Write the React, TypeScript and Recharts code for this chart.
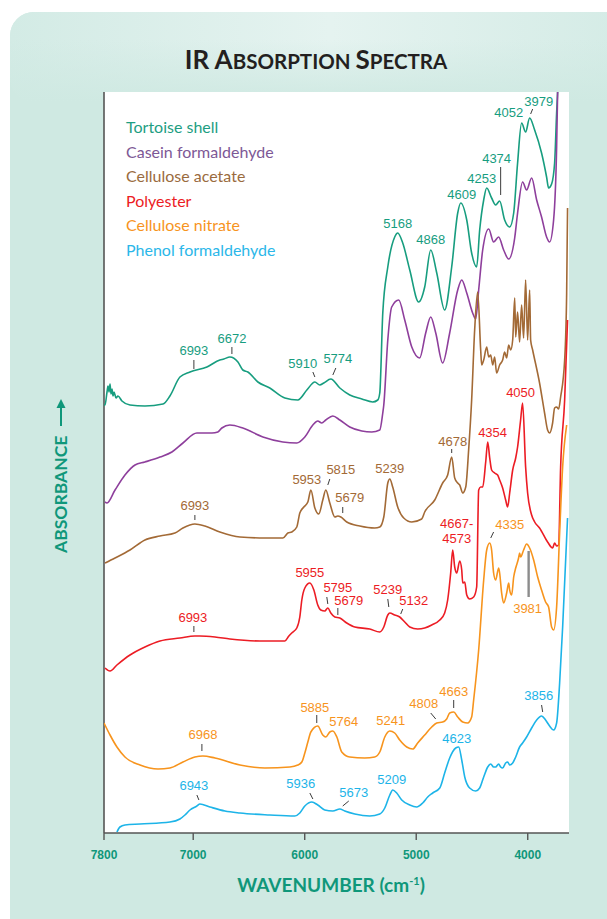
import React from 'react';
import { ComposedChart, Line, XAxis, YAxis, Scatter, ReferenceLine, CartesianGrid, Legend } from 'recharts';

type Pt = [number, number];

// ---- Spectra: [wavenumber (cm-1), absorbance (arbitrary units, offset per trace)] ----
const tortoiseShell: Pt[] = [[7800,428],[7791,428],[7773,441],[7764,447],[7755,441],[7746,449],[7737,439],[7728,444],[7719,437],[7710,441],[7692,435],[7675,437],[7639,432],[7567,428],[7433,427],[7271,429],[7209,437],[7119,456],[7029,461],[6877,466],[6761,473],[6725,474],[6671,476],[6599,471],[6555,463],[6510,461],[6420,451],[6313,445],[6178,435],[6062,433],[5981,443],[5909,451],[5865,448],[5829,450],[5766,454],[5685,445],[5596,438],[5488,434],[5390,431],[5345,433],[5327,440],[5300,520],[5255,566],[5193,596],[5166,600],[5121,590],[5058,563],[4978,531],[4924,546],[4870,583],[4816,560],[4745,523],[4682,566],[4628,620],[4601,630],[4547,613],[4503,580],[4458,566],[4431,603],[4395,633],[4368,645],[4324,635],[4288,628],[4252,632],[4207,613],[4162,606],[4126,620],[4091,670],[4055,710],[4019,701],[3983,715],[3938,703],[3876,680],[3831,656],[3813,645],[3786,649],[3759,670],[3741,720],[3732,741]];

const caseinFormaldehyde: Pt[] = [[7791,331],[7773,330],[7701,343],[7612,358],[7522,368],[7433,371],[7298,376],[7191,381],[7092,390],[6967,400],[6832,400],[6779,401],[6743,405],[6671,408],[6555,405],[6375,396],[6196,391],[6071,390],[5999,396],[5927,408],[5883,412],[5847,410],[5811,413],[5748,417],[5685,413],[5596,406],[5488,402],[5399,401],[5327,403],[5300,420],[5291,428],[5255,493],[5220,526],[5157,533],[5103,513],[5040,486],[4969,475],[4915,500],[4870,516],[4825,500],[4763,470],[4700,500],[4628,543],[4592,553],[4547,540],[4494,520],[4467,514],[4440,543],[4404,583],[4350,604],[4306,591],[4261,596],[4216,583],[4171,574],[4117,595],[4091,620],[4046,651],[4010,643],[3965,655],[3920,633],[3876,616],[3831,596],[3804,591],[3768,613],[3741,686],[3732,741]];

const celluloseAcetate: Pt[] = [[7791,270],[7701,275],[7567,283],[7433,293],[7298,297],[7164,300],[7092,305],[6985,309],[6895,307],[6761,301],[6581,296],[6357,295],[6196,295],[6151,300],[6116,301],[6071,306],[6044,320],[6008,326],[5972,331],[5945,343],[5909,325],[5874,319],[5838,333],[5811,343],[5775,330],[5730,316],[5703,317],[5676,316],[5623,311],[5506,307],[5372,305],[5327,306],[5291,316],[5255,350],[5237,354],[5211,346],[5166,326],[5112,315],[5040,311],[4951,314],[4924,321],[4834,333],[4763,350],[4718,358],[4682,376],[4655,355],[4628,350],[4610,348],[4583,340],[4556,346],[4530,383],[4503,433],[4476,503],[4449,541],[4422,483],[4413,468],[4395,473],[4368,486],[4350,476],[4332,478],[4314,468],[4297,476],[4279,460],[4252,468],[4225,473],[4207,481],[4189,475],[4171,488],[4153,483],[4135,493],[4117,535],[4108,496],[4091,521],[4073,491],[4055,528],[4037,495],[4019,553],[4001,493],[3983,543],[3974,493],[3956,483],[3894,450],[3849,420],[3822,403],[3804,400],[3777,410],[3759,425],[3741,426],[3723,424],[3705,436],[3669,473],[3651,540],[3643,625]];

const polyester: Pt[] = [[7791,165],[7746,162],[7684,168],[7567,178],[7433,186],[7298,192],[7119,195],[6985,197],[6940,197],[6805,196],[6671,194],[6402,192],[6178,192],[6142,197],[6116,200],[6071,205],[6044,216],[6026,233],[5999,245],[5954,250],[5918,243],[5883,228],[5856,223],[5820,222],[5793,225],[5766,220],[5730,216],[5685,215],[5623,210],[5551,206],[5417,204],[5327,201],[5291,206],[5255,218],[5237,220],[5193,218],[5148,216],[5103,211],[5058,206],[4987,204],[4924,205],[4861,208],[4789,213],[4745,220],[4718,233],[4691,260],[4673,283],[4655,266],[4637,260],[4610,272],[4592,263],[4583,250],[4565,251],[4547,238],[4521,234],[4485,236],[4458,246],[4440,343],[4422,346],[4404,346],[4377,371],[4359,391],[4341,375],[4324,363],[4297,360],[4270,358],[4252,353],[4225,345],[4198,333],[4180,326],[4162,340],[4135,363],[4108,375],[4091,386],[4064,413],[4046,430],[4019,366],[4001,340],[3965,318],[3938,311],[3894,305],[3822,291],[3777,285],[3759,290],[3741,287],[3723,288],[3705,366],[3669,433],[3643,513]];

const celluloseNitrate: Pt[] = [[7800,110],[7746,98],[7684,86],[7612,76],[7477,68],[7316,64],[7209,65],[7092,71],[6985,76],[6913,77],[6805,75],[6581,68],[6357,65],[6133,66],[6062,68],[6026,71],[5999,80],[5972,91],[5945,101],[5883,107],[5838,98],[5811,96],[5775,101],[5748,102],[5712,96],[5668,81],[5596,76],[5462,75],[5372,76],[5327,81],[5282,96],[5237,102],[5193,100],[5148,93],[5085,86],[5031,84],[4987,90],[4924,98],[4861,106],[4816,110],[4763,111],[4727,114],[4700,120],[4664,121],[4628,116],[4583,111],[4539,110],[4503,116],[4485,133],[4440,183],[4395,253],[4368,283],[4341,290],[4324,283],[4306,260],[4288,253],[4261,265],[4252,260],[4234,240],[4216,230],[4189,240],[4171,250],[4162,243],[4144,238],[4126,256],[4108,265],[4082,275],[4073,280],[4064,276],[4037,283],[4010,289],[3983,285],[3947,273],[3911,256],[3876,243],[3840,231],[3813,226],[3786,206],[3768,203],[3741,226],[3714,300],[3687,366],[3651,408]];

const phenolFormaldehyde: Pt[] = [[7684,1],[7657,6],[7612,8],[7477,9],[7209,11],[7119,14],[7074,18],[7029,23],[6967,27],[6940,29],[6850,26],[6716,22],[6581,20],[6313,18],[6089,17],[6044,20],[5999,27],[5936,31],[5883,28],[5820,23],[5748,22],[5685,24],[5641,22],[5551,19],[5417,17],[5327,19],[5282,25],[5237,38],[5211,43],[5175,40],[5130,33],[5058,28],[4996,26],[4942,30],[4897,36],[4852,40],[4789,45],[4745,60],[4700,75],[4646,85],[4619,86],[4592,73],[4565,56],[4521,45],[4467,42],[4431,45],[4395,56],[4359,66],[4332,69],[4306,66],[4288,66],[4261,69],[4243,66],[4225,65],[4198,70],[4180,71],[4162,68],[4135,70],[4108,76],[4073,86],[4046,90],[4010,96],[3965,105],[3920,113],[3876,117],[3840,113],[3804,107],[3768,103],[3741,110],[3714,150],[3687,206],[3643,315]];

// ---- Peak labels: [text, wavenumber, absorbance] ----
type Lbl = [string, number, number];
const tortoiseLabels: Lbl[] = [['6993',6994,478],['6672',6653,490],['5910',6017,465],['5774',5703,470],['5168',5166,605],['4868',4870,589],['4609',4592,634],['4253',4413,650],['4374',4279,670],['4052',4171,716],['3979',3902,727]];
const acetateLabels: Lbl[] = [['6993',6985,323],['5953',5981,349],['5815',5676,359],['5679',5596,331],['5239',5237,360],['4678',4673,387]];
const polyesterLabels: Lbl[] = [['6993',7003,211],['5955',5954,256],['5795',5703,241],['5679',5605,228],['5239',5255,239],['5132',5022,228],['4667-',4637,305],['4573',4637,290],['4354',4315,396],['4050',4064,436]];
const nitrateLabels: Lbl[] = [['6968',6913,94],['5885',5909,121],['5764',5650,107],['5241',5228,108],['4808',4933,125],['4663',4664,137],['4335',4162,304],['3981',4001,220]];
const phenolLabels: Lbl[] = [['6943',6994,43],['5936',6035,45],['5673',5560,36],['5209',5220,49],['4623',4637,90],['3856',3902,133]];

// ---- Leader ticks: [wn1, a1, wn2, a2] ----
type Ldr = [number, number, number, number];
const tortoiseLeaders: Ldr[] = [[6994,473,6994,464],[6653,486,6653,479],[5927,461,5909,456],[5721,465,5748,458],[4243,666,4243,638],[3956,724,3974,719]];
const acetateLeaders: Ldr[] = [[6985,318,6985,313],[5775,354,5793,348],[5659,326,5659,320],[4682,384,4682,380]];
const polyesterLeaders: Ldr[] = [[6994,207,6994,201],[5802,236,5793,229],[5703,225,5703,218],[5255,234,5246,226],[5121,224,5139,219]];
const nitrateLeaders: Ldr[] = [[6922,89,6922,82],[5892,118,5892,110],[4870,120,4825,114],[4664,133,4664,125],[4306,301,4332,295]];
const nitrateBar: Ldr[] = [[3992,282,3992,236]];
const phenolLeaders: Ldr[] = [[6967,38,6949,33],[5954,40,5927,34],[5605,32,5659,27],[3876,128,3866,121]];

const xTicks = [7800, 7000, 6000, 5000, 4000];
const seriesNames = ['Tortoise shell', 'Casein formaldehyde', 'Cellulose acetate', 'Polyester', 'Cellulose nitrate', 'Phenol formaldehyde'];

const TEAL = '#179d7f';
const PURPLE = '#8e3f9c';
const BROWN = '#a36a36';
const RED = '#ec1c24';
const ORANGE = '#f7941d';
const CYAN = '#1db4e8';
const AXIS_TEAL = '#0f977a';
const legendColors = ['#1d9e82', '#7d5896', '#9a6b3e', '#ec1c24', '#f7941d', '#2bb7e9'];

const series = [
  { name: seriesNames[0], pts: tortoiseShell, color: TEAL, labels: tortoiseLabels, leaders: tortoiseLeaders },
  { name: seriesNames[1], pts: caseinFormaldehyde, color: PURPLE, labels: [] as Lbl[], leaders: [] as Ldr[] },
  { name: seriesNames[2], pts: celluloseAcetate, color: BROWN, labels: acetateLabels, leaders: acetateLeaders },
  { name: seriesNames[3], pts: polyester, color: RED, labels: polyesterLabels, leaders: polyesterLeaders },
  { name: seriesNames[4], pts: celluloseNitrate, color: ORANGE, labels: nitrateLabels, leaders: nitrateLeaders },
  { name: seriesNames[5], pts: phenolFormaldehyde, color: CYAN, labels: phenolLabels, leaders: phenolLeaders },
];

const toRows = (p: Pt[]) => p.map(([wn, a]) => ({ wn, a }));

const makeLabelShape = (color: string) => (props: any) => {
  const { cx, cy, payload } = props;
  if (cx == null || cy == null) return <g />;
  return (
    <text x={cx} y={cy} textAnchor="middle" fill={color} fontSize={13}
      fontFamily="'Liberation Sans', Arial, Helvetica, sans-serif">{payload.label}</text>
  );
};

const LegendBox = () => (
  <div style={{ fontFamily: 'Lato, "Open Sans", sans-serif', fontSize: 16, lineHeight: '24.6px' }}>
    {seriesNames.map((n, i) => (
      <div key={n} style={{ color: legendColors[i], whiteSpace: 'nowrap' }}>{n}</div>
    ))}
  </div>
);

export default function App() {
  return (
    <div style={{ position: 'absolute', left: 0, top: 0, width: 607, height: 919, background: '#fff', overflow: 'hidden' }}>
      <svg width={607} height={919} style={{ position: 'absolute', left: 0, top: 0 }}>
        <defs>
          <linearGradient id="bgH" x1="0" y1="0" x2="1" y2="0">
            <stop offset="0" stopColor="#d3ebe5" />
            <stop offset="0.5" stopColor="#e5f3f0" />
            <stop offset="1" stopColor="#d3ebe5" />
          </linearGradient>
          <linearGradient id="bgV" x1="0" y1="0" x2="0" y2="1">
            <stop offset="0" stopColor="#cfe9e2" stopOpacity="0" />
            <stop offset="1" stopColor="#cfe9e2" stopOpacity="1" />
          </linearGradient>
        </defs>
        <rect x={10} y={12} width={640} height={960} rx={24} fill="#cfe9e2" />
        <rect x={10} y={12} width={640} height={90} rx={24} fill="url(#bgH)" />
        <rect x={10} y={40} width={640} height={62} fill="url(#bgV)" />
      </svg>
      <div style={{ position: 'absolute', left: 0, top: 0 }}>
        <ComposedChart width={607} height={919} margin={{ top: 92, right: 38, bottom: 56, left: 104 }}>
          <CartesianGrid fill="#ffffff" stroke="none" horizontal={false} vertical={false} />
          <XAxis type="number" dataKey="wn" domain={[3630, 7800]} reversed allowDataOverflow ticks={xTicks}
            height={30} interval={0}
            axisLine={{ stroke: '#555', strokeWidth: 1.6 }} tickLine={{ stroke: '#555', strokeWidth: 1.4 }} tickSize={7} tickMargin={10}
            tick={{ fill: AXIS_TEAL, fontSize: 12, fontWeight: 700, fontFamily: "'Liberation Sans Narrow', 'Liberation Sans', Arial, sans-serif" }} />
          <YAxis type="number" dataKey="a" domain={[0, 741]} hide allowDataOverflow />
          <ReferenceLine x={7800} stroke="#555" strokeWidth={1.6} />
          {series.map((s) => (
            <Line key={s.name} name={s.name} data={toRows(s.pts)} dataKey="a" type="monotone" stroke={s.color}
              strokeWidth={1.6} dot={false} activeDot={false} isAnimationActive={false} />
          ))}
          {series.map((s) => s.leaders.map((l, i) => (
            <Line key={s.name + '-ldr-' + i} data={[{ wn: l[0], a: l[1] }, { wn: l[2], a: l[3] }]} dataKey="a"
              type="linear" stroke="#3c3c3c" strokeWidth={1} dot={false} activeDot={false} isAnimationActive={false} legendType="none" />
          )))}
          {nitrateBar.map((l, i) => (
            <Line key={'bar-' + i} data={[{ wn: l[0], a: l[1] }, { wn: l[2], a: l[3] }]} dataKey="a"
              type="linear" stroke="#8c8c8c" strokeWidth={2.4} dot={false} activeDot={false} isAnimationActive={false} legendType="none" />
          ))}
          {series.filter((s) => s.labels.length).map((s) => (
            <Scatter key={s.name + '-lbl'} data={s.labels.map(([label, wn, a]) => ({ label, wn, a }))}
              shape={makeLabelShape(s.color)} isAnimationActive={false} legendType="none" />
          ))}
          <Legend layout="vertical" align="center" verticalAlign="middle" content={<LegendBox />}
            wrapperStyle={{ left: 126, top: 115, width: 240, height: 150 }} />
        </ComposedChart>
      </div>
      <svg width={607} height={919} style={{ position: 'absolute', left: 0, top: 0, pointerEvents: 'none' }}>
        <text x={316} y={69} textAnchor="middle" fill="#231f20" fontFamily="Lato, 'Open Sans', sans-serif" fontWeight={700}>
          <tspan fontSize={26}>IR A</tspan><tspan fontSize={20.5}>BSORPTION </tspan><tspan fontSize={26}>S</tspan><tspan fontSize={20.5}>PECTRA</tspan>
        </text>
        <text x={331} y={892} textAnchor="middle" fill={AXIS_TEAL} fontFamily="Lato, 'Open Sans', sans-serif" fontWeight={700} fontSize={19}>
          WAVENUMBER (cm<tspan fontSize={11} dy={-7}>-1</tspan><tspan dy={7}>)</tspan>
        </text>
        <g transform="translate(67,553) rotate(-90)">
          <text x={0} y={0} fill={AXIS_TEAL} fontFamily="Lato, 'Open Sans', sans-serif" fontWeight={700} fontSize={17.5}>ABSORBANCE</text>
        </g>
        <line x1={61} y1={426} x2={61} y2={406} stroke={AXIS_TEAL} strokeWidth={2} />
        <polygon points="61,399 56.5,408 65.5,408" fill={AXIS_TEAL} />
      </svg>
    </div>
  );
}
